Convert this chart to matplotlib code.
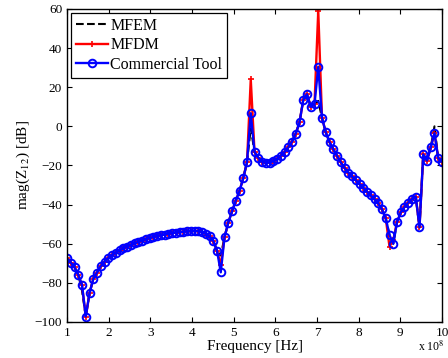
import numpy as np
import matplotlib
matplotlib.use("Agg")
import matplotlib.pyplot as plt

plt.rcParams['font.family'] = ['Liberation Serif', 'DejaVu Serif']
plt.rcParams['mathtext.fontset'] = 'stix'

# Frequency in units of 1e8 Hz (101 points from 1e8 to 1e9)
freq = np.linspace(1.0, 10.0, 101)

commercial = [
    -67.5, -69.6, -72.0, -75.8, -81.2, -97.2, -85.3, -78.0, -74.8, -71.5,
    -69.2, -67.3, -65.8, -64.5, -63.4, -62.4, -61.5, -60.6, -59.8, -59.1,
    -58.4, -57.7, -57.1, -56.6, -56.1, -55.7, -55.3, -54.9, -54.6, -54.3,
    -54.1, -53.9, -53.7, -53.6, -53.5, -53.6, -54.0, -54.8, -56.3, -58.5,
    -63.5, -74.6, -56.7, -49.2, -43.5, -38.0, -33.0, -26.5, -18.3, 6.7,
    -13.0, -16.0, -18.0, -18.7, -18.5, -17.8, -16.8, -15.0, -13.2, -10.7,
    -7.8, -3.7, 2.0, 13.5, 16.4, 10.0, 11.3, 30.5, 4.3, -3.0,
    -8.0, -11.7, -15.0, -18.3, -21.2, -23.6, -25.6, -27.5, -29.5, -31.5,
    -33.4, -35.3, -37.3, -39.4, -42.4, -47.0, -55.5, -60.0, -49.0, -44.0,
    -41.2, -39.0, -37.1, -36.0, -51.6, -14.3, -17.5, -10.7, -3.5, -16.3,
    -18.0,
]

mfdm = list(commercial)
mfdm[41] = -71.0
mfdm[49] = 24.0
mfdm[67] = 59.0
mfdm[86] = -61.5
mfdm[87] = -58.0

mfem = list(commercial)
mfem[4] = -84.0
mfem[41] = -66.0
mfem[49] = -1.0
mfem[67] = 13.0
mfem[98] = 0.0

xticks = list(range(1, 11))
yticks = list(range(-100, 61, 20))

fig = plt.figure(figsize=(4.48, 3.58), dpi=100)
ax = fig.add_axes([0.1496, 0.1006, 0.8370, 0.8743])

ax.plot(freq, mfem, 'k--', lw=1.5, label='MFEM')
ax.plot(freq, mfdm, color='red', lw=1.7, marker='+', ms=5, mew=1.2, label='MFDM')
ax.plot(freq, commercial, color='blue', lw=1.7, marker='o', ms=5.5, mew=1.4,
        mfc='none', mec='blue', label='Commercial Tool')

ax.set_xlim(1, 10)
ax.set_ylim(-100, 60)
ax.set_xticks(xticks)
ax.set_yticks(yticks)
ax.tick_params(direction='in', top=True, right=True, labelsize=9.5, length=3.5, width=0.8)
for s in ax.spines.values():
    s.set_linewidth(1.0)

ax.set_xlabel('Frequency [Hz]', fontsize=11, labelpad=1)
ax.set_ylabel('mag(Z$_{12}$) [dB]', fontsize=11, labelpad=2)
fig.text(0.993, 0.012, 'x 10$^{8}$', ha='right', va='bottom', fontsize=8.5)

leg = ax.legend(loc='upper left', fontsize=11.5, fancybox=False, edgecolor='black',
                framealpha=1, borderaxespad=0.25, handlelength=2.0, handletextpad=0.15,
                labelspacing=0.22, borderpad=0.3, numpoints=1)
leg.get_frame().set_linewidth(0.9)

fig.savefig('out.png', dpi=100)
